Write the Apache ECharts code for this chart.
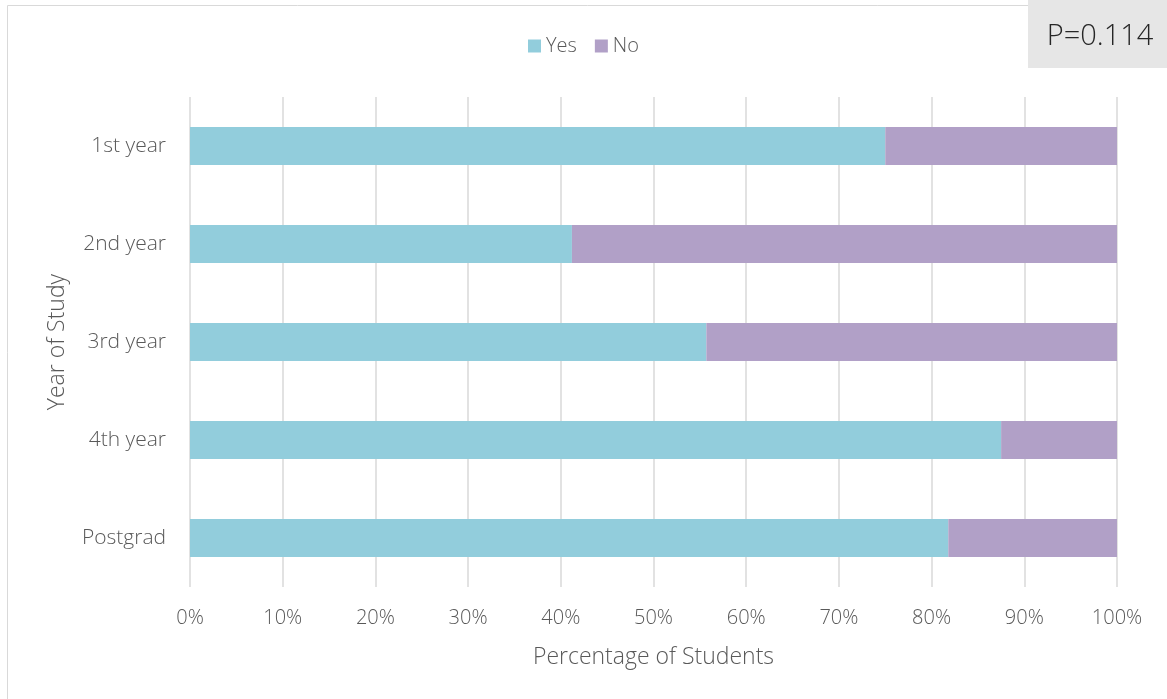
<!DOCTYPE html>
<html><head><meta charset="utf-8">
<script src="https://cdn.jsdelivr.net/npm/echarts@6/dist/echarts.min.js"></script>
<style>html,body{margin:0;padding:0;background:#fff}#c{width:1167px;height:699px}</style>
</head><body><div id="c"></div>
<script>
const categories = ['1st year','2nd year','3rd year','4th year','Postgrad'];
const yesValues = [75.0, 41.2, 55.7, 87.5, 81.8];
const noValues = [25.0, 58.8, 44.3, 12.5, 18.2];
const seriesNames = ['Yes','No'];
const pText = 'P=0.114';

const font = 'Open Sans';
const txt = '#595959';
const chart = echarts.init(document.getElementById('c'));
chart.setOption({
  animation:false,
  textStyle:{fontFamily:font, fontWeight:300},
  legend:{top:31,left:'center',itemWidth:13,itemHeight:13,itemGap:18,icon:'rect',
    textStyle:{color:txt,fontSize:20,fontFamily:font,fontWeight:300}, data:seriesNames},
  grid:{left:190,right:50,top:97,bottom:112},
  xAxis:{type:'value',min:0,max:100,interval:10,
    axisLabel:{formatter:'{value}%',color:txt,fontSize:20,margin:21,fontFamily:font,fontWeight:300},
    axisLine:{show:false},axisTick:{show:false},
    splitLine:{show:true,lineStyle:{color:'#d9d9d9',width:1.5}},
    name:'Percentage of Students',nameLocation:'middle',nameGap:59,
    nameTextStyle:{color:txt,fontSize:23,fontFamily:font,fontWeight:300}},
  yAxis:{type:'category',data:categories,inverse:true,
    axisLabel:{color:txt,fontSize:21,margin:24,fontFamily:font,fontWeight:300},
    axisLine:{show:false},axisTick:{show:false},
    name:'Year of Study',nameLocation:'middle',nameGap:121,
    nameTextStyle:{color:txt,fontSize:23,fontFamily:font,fontWeight:300}},
  series:[
    {name:seriesNames[0],type:'bar',stack:'t',data:yesValues,barWidth:'39%',itemStyle:{color:'#92CDDC'}},
    {name:seriesNames[1],type:'bar',stack:'t',data:noValues,barWidth:'39%',itemStyle:{color:'#B1A0C7'}}
  ],
  graphic:[
    {type:'rect',shape:{x:7.5,y:5.5,width:1170,height:700},style:{fill:'none',stroke:'#d9d9d9',lineWidth:1},z:-1},
    {type:'rect',shape:{x:1028,y:0,width:139,height:68},style:{fill:'#e6e6e6'}},
    {type:'text',x:1100,y:37,style:{text:pText,fill:'#262626',fontSize:29,fontFamily:font,fontWeight:300,align:'center',verticalAlign:'middle'}}
  ]
});
</script></body></html>
